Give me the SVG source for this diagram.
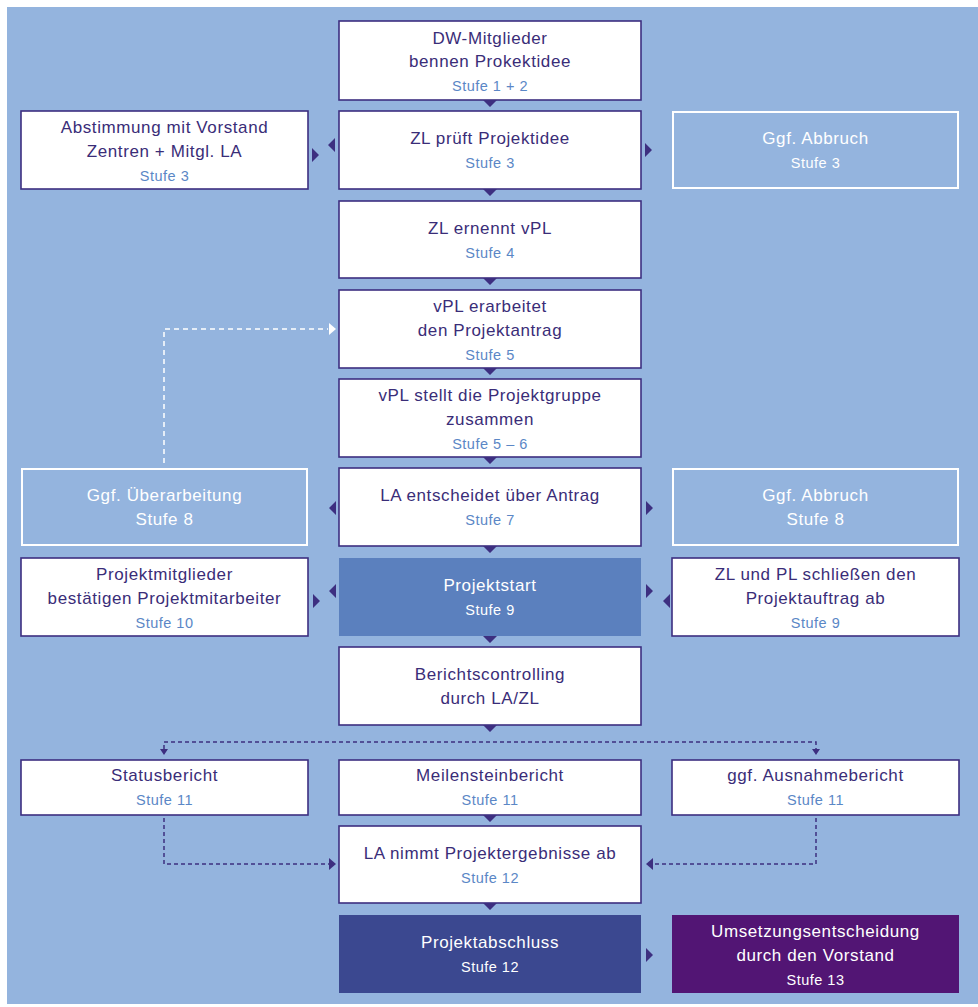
<svg xmlns="http://www.w3.org/2000/svg" width="978" height="1007" viewBox="0 0 978 1007">
<style>
.bg{fill:#94B4DE}
.wb{fill:#FFFFFF;stroke:#3D2F80;stroke-width:1.6}
.gb{fill:#94B4DE;stroke:#FFFFFF;stroke-width:2}
.t{font-family:"Liberation Sans",Arial,sans-serif;font-size:17px;letter-spacing:0.6px;fill:#3A2D78;text-anchor:middle}
.s{font-family:"Liberation Sans",Arial,sans-serif;font-size:14.5px;letter-spacing:0.5px;fill:#5B87C6;text-anchor:middle}
.tw{fill:#FFFFFF}
.ar{fill:#3D2F80}
.dp{fill:none;stroke:#3D2F80;stroke-width:1.5;stroke-dasharray:4 3}
.dw{fill:none;stroke:#FFFFFF;stroke-width:1.5;stroke-dasharray:5 4}
</style>
<rect class="bg" x="7" y="7" width="971" height="997"/>

<g id="n1"><rect class="wb" x="339" y="21" width="302" height="79"/>
<text class="t" x="490" y="44">DW-Mitglieder</text><text class="t" x="490" y="67">bennen Prokektidee</text><text class="s" x="490" y="91">Stufe 1 + 2</text></g>

<g id="n2l"><rect class="wb" x="21" y="111" width="287" height="78"/>
<text class="t" x="164.5" y="133">Abstimmung mit Vorstand</text><text class="t" x="164.5" y="157">Zentren + Mitgl. LA</text><text class="s" x="164.5" y="181">Stufe 3</text></g>
<g id="n2"><rect class="wb" x="339" y="111" width="302" height="78"/>
<text class="t" x="490" y="144">ZL prüft Projektidee</text><text class="s" x="490" y="168">Stufe 3</text></g>
<g id="n2r"><rect class="gb" x="673" y="112" width="285" height="76"/>
<text class="t tw" x="815.5" y="144">Ggf. Abbruch</text><text class="s tw" x="815.5" y="168">Stufe 3</text></g>

<g id="n3"><rect class="wb" x="339" y="201" width="302" height="77"/>
<text class="t" x="490" y="234">ZL ernennt vPL</text><text class="s" x="490" y="258">Stufe 4</text></g>

<g id="n4"><rect class="wb" x="339" y="290" width="302" height="78"/>
<text class="t" x="490" y="312">vPL erarbeitet</text><text class="t" x="490" y="336">den Projektantrag</text><text class="s" x="490" y="360">Stufe 5</text></g>

<g id="n5"><rect class="wb" x="339" y="379" width="302" height="78"/>
<text class="t" x="490" y="401">vPL stellt die Projektgruppe</text><text class="t" x="490" y="425">zusammen</text><text class="s" x="490" y="449">Stufe 5 – 6</text></g>

<g id="n6l"><rect class="gb" x="22" y="469" width="285" height="76"/>
<text class="t tw" x="164.5" y="501">Ggf. Überarbeitung</text><text class="t tw" x="164.5" y="525">Stufe 8</text></g>
<g id="n6"><rect class="wb" x="339" y="468" width="302" height="78"/>
<text class="t" x="490" y="501">LA entscheidet über Antrag</text><text class="s" x="490" y="525">Stufe 7</text></g>
<g id="n6r"><rect class="gb" x="673" y="469" width="285" height="76"/>
<text class="t tw" x="815.5" y="501">Ggf. Abbruch</text><text class="t tw" x="815.5" y="525">Stufe 8</text></g>

<g id="n7l"><rect class="wb" x="21" y="558" width="287" height="78"/>
<text class="t" x="164.5" y="580">Projektmitglieder</text><text class="t" x="164.5" y="604">bestätigen Projektmitarbeiter</text><text class="s" x="164.5" y="628">Stufe 10</text></g>
<g id="n7"><rect x="339" y="558" width="302" height="78" fill="#5B80BE"/>
<text class="t tw" x="490" y="591">Projektstart</text><text class="s tw" x="490" y="615">Stufe 9</text></g>
<g id="n7r"><rect class="wb" x="672" y="558" width="287" height="78"/>
<text class="t" x="815.5" y="580">ZL und PL schließen den</text><text class="t" x="815.5" y="604">Projektauftrag ab</text><text class="s" x="815.5" y="628">Stufe 9</text></g>

<g id="n8"><rect class="wb" x="339" y="647" width="302" height="78"/>
<text class="t" x="490" y="680">Berichtscontrolling</text><text class="t" x="490" y="704">durch LA/ZL</text></g>

<g id="n9l"><rect class="wb" x="21" y="760" width="287" height="55"/>
<text class="t" x="164.5" y="781">Statusbericht</text><text class="s" x="164.5" y="805">Stufe 11</text></g>
<g id="n9"><rect class="wb" x="339" y="760" width="302" height="55"/>
<text class="t" x="490" y="781">Meilensteinbericht</text><text class="s" x="490" y="805">Stufe 11</text></g>
<g id="n9r"><rect class="wb" x="672" y="760" width="287" height="55"/>
<text class="t" x="815.5" y="781">ggf. Ausnahmebericht</text><text class="s" x="815.5" y="805">Stufe 11</text></g>

<g id="n10"><rect class="wb" x="339" y="826" width="302" height="77"/>
<text class="t" x="490" y="859">LA nimmt Projektergebnisse ab</text><text class="s" x="490" y="883">Stufe 12</text></g>

<g id="n11"><rect x="339" y="915" width="302" height="78" fill="#3B4890"/>
<text class="t tw" x="490" y="948">Projektabschluss</text><text class="s tw" x="490" y="972">Stufe 12</text></g>
<g id="n11r"><rect x="672" y="915" width="287" height="78" fill="#521574"/>
<text class="t tw" x="815.5" y="937">Umsetzungsentscheidung</text><text class="t tw" x="815.5" y="961">durch den Vorstand</text><text class="s tw" x="815.5" y="985">Stufe 13</text></g>

<g id="connectors">
<path class="ar" d="M483,100L497,100L490,107Z M483,189L497,189L490,196Z M483,278L497,278L490,285Z M483,368L497,368L490,375Z M483,457L497,457L490,464Z M483,546L497,546L490,553Z M483,636L497,636L490,643Z M483,725L497,725L490,732Z M483,815L497,815L490,822Z M483,903L497,903L490,910Z"/>
<path class="ar" d="M335,138L335,152L328,145Z M312,148L312,162L319,155Z M645,143L645,157L652,150Z"/>
<path class="ar" d="M336,501L336,515L329,508Z M646,501L646,515L653,508Z"/>
<path class="ar" d="M313,594L313,608L320,601Z M336,584L336,598L329,591Z M646,584L646,598L653,591Z M670,594L670,608L663,601Z"/>
<path class="ar" d="M646,948L646,962L653,955Z"/>
<path class="dw" d="M164,463V329H328"/>
<path d="M329,323L329,335L336,329Z" fill="#FFFFFF"/>
<path class="dp" d="M164,749V742H816V749"/>
<path class="ar" d="M160,749L168,749L164,755Z M812,749L820,749L816,755Z"/>
<path class="dp" d="M164,818V864H329"/>
<path class="ar" d="M329,858L329,870L336,864Z"/>
<path class="dp" d="M816,818V864H653"/>
<path class="ar" d="M653,858L653,870L646,864Z"/>
</g>
</svg>
